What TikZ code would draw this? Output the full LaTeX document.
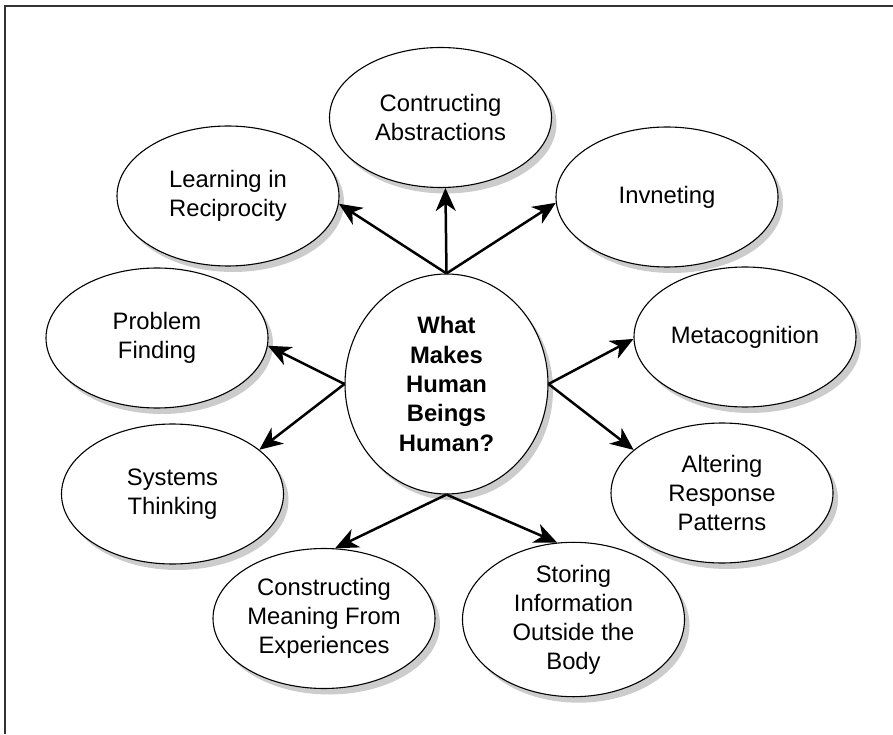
\documentclass[tikz,border=0pt]{standalone}
\usepackage{fontspec}
\setmainfont{Liberation Sans}
\usetikzlibrary{shapes.geometric,shadows,arrows.meta}

\begin{document}
\begin{tikzpicture}[x=1pt, y=1pt]

\tikzstyle{bubble}=[ellipse, draw, line width=1.1pt, fill=white, minimum width=222pt, minimum height=140pt, inner sep=0pt, align=center, font=\fontsize{23.8}{29}\selectfont, drop shadow={shadow xshift=5pt, shadow yshift=-6pt, fill=black!20, opacity=1}]
\tikzstyle{hubbox}=[bubble, minimum width=203pt, minimum height=220pt, font=\fontsize{23.8}{29.3}\selectfont\bfseries]
\tikzstyle{arrow}=[-{Stealth[length=23pt, width=20pt, inset=7pt]}, line width=2.5pt]

\useasboundingbox (0,0) rectangle (893,734);
\draw [line width=2pt, black!80] (5,0) -- (5,728) -- (893,728);

% the question in the middle
\node (hub) [hubbox] at (446.5,350) {What\\Makes\\Human\\Beings\\Human?};

% the ring of answers
\node (abstr)   [bubble] at (440.5,616.5) {Contructing\\Abstractions};
\node (learn)   [bubble] at (228,538)     {Learning in\\Reciprocity};
\node (invent)  [bubble] at (667,537)     {Invneting};
\node (problem) [bubble] at (157,396)     {Problem\\Finding};
\node (meta)    [bubble] at (745,397)     {Metacognition};
\node (systems) [bubble] at (172.5,240)   {Systems\\Thinking};
\node (alter)   [bubble] at (722,241)     {Altering\\Response\\Patterns};
\node (meaning) [bubble] at (324,115.5)   {Constructing\\Meaning From\\Experiences};
\node (storing) [bubble] at (573.5,114.5) {Storing\\Information\\Outside the\\Body};

\draw [arrow] (hub.north) -- (learn.-4);
\draw [arrow] (hub.north) -- (abstr.-86);
\draw [arrow] (hub.north) -- (invent.183);
\draw [arrow] (hub.west)  -- (problem.-4);
\draw [arrow] (hub.west)  -- (systems.27);
\draw [arrow] (hub.east)  -- (meta.181);
\draw [arrow] (hub.east)  -- (alter.154);
\draw [arrow] (hub.south) -- (meaning.81);
\draw [arrow] (hub.south) -- (storing.102);

\end{tikzpicture}
\end{document}
